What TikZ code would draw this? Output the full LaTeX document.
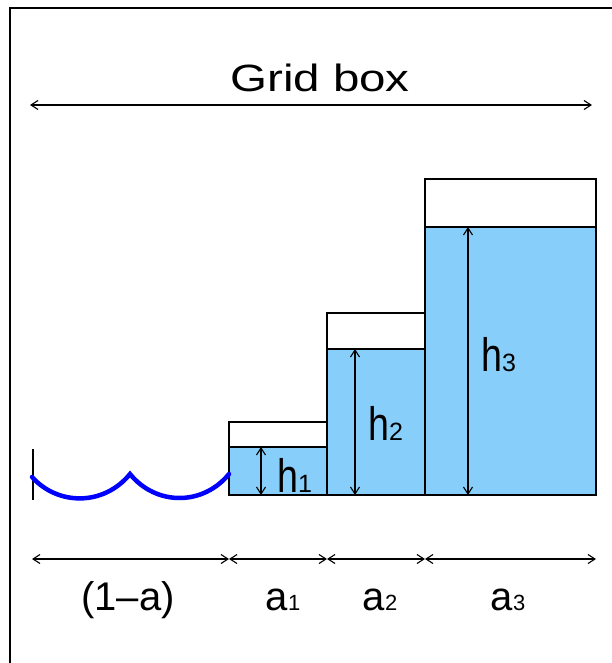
\documentclass[tikz,border=0pt]{standalone}
\usepackage{fontspec}
\setmainfont{Liberation Sans}
\usetikzlibrary{arrows.meta}
\definecolor{water}{RGB}{135,206,250}
\definecolor{wave}{RGB}{0,0,255}
\tikzset{
  dim/.style={line width=1.1pt,{Straight Barb[length=7pt,width=9pt]}-{Straight Barb[length=7pt,width=9pt]}},
  bar/.style={draw=black,line width=1.2pt},
  lbl/.style={font=\fontsize{40}{44}\selectfont,inner sep=0pt},
  hlbl/.style={font=\fontsize{47}{50}\selectfont,inner sep=0pt},
}
\newcommand{\sub}[1]{{\fontsize{22}{24}\selectfont #1}}
\newcommand{\hsub}[1]{{\fontsize{25}{27}\selectfont #1}}
\begin{document}
\begin{tikzpicture}[x=1pt,y=-1pt]
\useasboundingbox (0,0) rectangle (612,663);
\fill[white] (0,0) rectangle (612,663);
% frame
\draw[line width=1.5pt] (10,700) -- (10,8) -- (650,8);
% title
\node[font=\fontsize{38}{42}\selectfont,inner sep=0pt] (title) at (320,78) {\scalebox{1.25}[1]{Grid box}};
\coordinate (gl) at (30,105);
\coordinate (gr) at (592,105);
\draw[dim] (gl) -- (gr);
% bars
\fill[white] (229,422) rectangle (327,447);
\fill[water] (229,447) rectangle (327,495);
\draw[bar] (229,422) rectangle (327,495);
\draw[bar] (229,447) -- (327,447);
\fill[white] (327,313) rectangle (425,349);
\fill[water] (327,349) rectangle (425,495);
\draw[bar] (327,313) rectangle (425,495);
\draw[bar] (327,349) -- (425,349);
\fill[white] (425,179) rectangle (596,227);
\fill[water] (425,227) rectangle (596,495);
\draw[bar] (425,179) rectangle (596,495);
\draw[bar] (425,227) -- (596,227);
% wave
\draw[line width=1.2pt] (33,449) -- (33,500);
\draw[wave,line width=4.5pt,line cap=round] (32,477) .. controls (58,506) and (104,506) .. (130,474) .. controls (156,506) and (203,506) .. (229,474);
% heights
\coordinate (h1t) at (261,447); \coordinate (h1b) at (261,495);
\coordinate (h2t) at (355,349); \coordinate (h2b) at (355,495);
\coordinate (h3t) at (468,227); \coordinate (h3b) at (468,495);
\draw[dim] (h1t) -- (h1b);
\draw[dim] (h2t) -- (h2b);
\draw[dim] (h3t) -- (h3b);
\node[hlbl,anchor=base west] (lh1) at (277,492) {\scalebox{0.8}[1]{h}\hsub{1}};
\node[hlbl,anchor=base west] (lh2) at (368,440) {\scalebox{0.8}[1]{h}\hsub{2}};
\node[hlbl,anchor=base west] (lh3) at (481,371) {\scalebox{0.8}[1]{h}\hsub{3}};
% widths
\coordinate (w0) at (32,559);
\coordinate (w1) at (229,559);
\coordinate (w2) at (327,559);
\coordinate (w3) at (425,559);
\coordinate (w4) at (596,559);
\draw[dim] (w0) -- (w1);
\draw[dim] (w1) -- (w2);
\draw[dim] (w2) -- (w3);
\draw[dim] (w3) -- (w4);
\node[lbl,anchor=base] (l0) at (128,610) {(1\textendash a)};
\node[lbl,anchor=base] (l1) at (283,610) {a\sub{1}};
\node[lbl,anchor=base] (l2) at (380,610) {a\sub{2}};
\node[lbl,anchor=base] (l3) at (508,610) {a\sub{3}};
\end{tikzpicture}
\end{document}
